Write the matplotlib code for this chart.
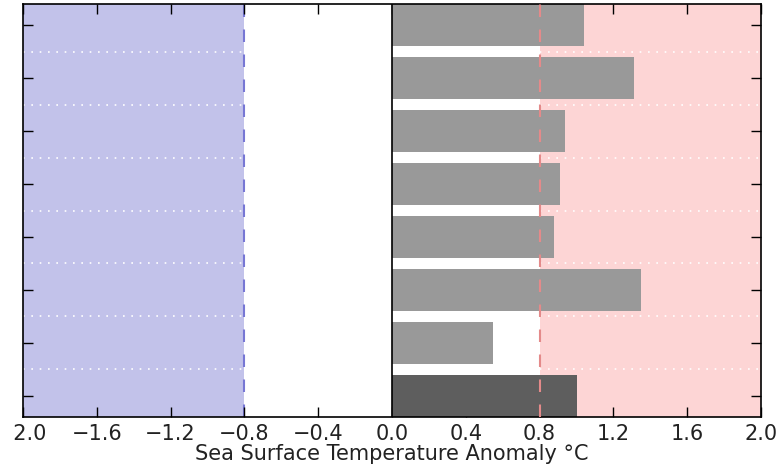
import matplotlib
matplotlib.use("Agg")
import matplotlib.pyplot as plt
import numpy as np

# Data (top to bottom in the picture)
values = [1.04, 1.31, 0.94, 0.91, 0.88, 1.35, 0.55, 1.0]
bar_colors = ['#999999'] * 7 + ['#5e5e5e']
xticks = [-2.0, -1.6, -1.2, -0.8, -0.4, 0.0, 0.4, 0.8, 1.2, 1.6, 2.0]
xticklabels = ['\u20072.0', '\u22121.6', '\u22121.2', '\u22120.8', '\u22120.4',
               '0.0', '0.4', '0.8', '1.2', '1.6', '2.0']
threshold = 0.8
xlabel = 'Sea Surface Temperature Anomaly °C'

fig = plt.figure(figsize=(7.79, 4.71), dpi=100)
ax = fig.add_axes([23/779, 1 - 417/471, (761-23)/779, (417-4)/471])

n = len(values)
ypos = np.arange(n)[::-1]

ax.axvspan(-2.0, -threshold, color='#c2c2ea', lw=0, zorder=0)
ax.axvspan(threshold, 2.0, color='#fdd5d5', lw=0, zorder=0)

ax.barh(ypos, values, height=0.8, color=bar_colors, linewidth=0, zorder=2)

for y in np.arange(n - 1) + 0.5:
    ax.axhline(y, color='white', linestyle=(0, (1, 4)), linewidth=1.2, zorder=1)

ax.axvline(-threshold, color='#7777d4', linestyle=(0, (6, 6)), linewidth=1.5, zorder=1)
ax.axvline(threshold, color='#e48a8a', linestyle=(0, (6, 6)), linewidth=1.5, zorder=3)
ax.axvline(0, color='black', linewidth=1.2, zorder=4)

ax.set_xlim(-2.0, 2.0)
ax.set_ylim(-0.4, n - 0.6)
ax.set_xticks(xticks)
ax.set_xticklabels(xticklabels, fontsize=15, color='#222222')
ax.set_yticks(np.arange(n))
ax.set_yticklabels([])
ax.tick_params(direction='in', length=7, width=1, top=True, right=True, pad=5)
ax.set_xlabel(xlabel, fontsize=15, labelpad=0, color='#222222')
for s in ax.spines.values():
    s.set_linewidth(1.2)

fig.savefig('out.png', dpi=100)
